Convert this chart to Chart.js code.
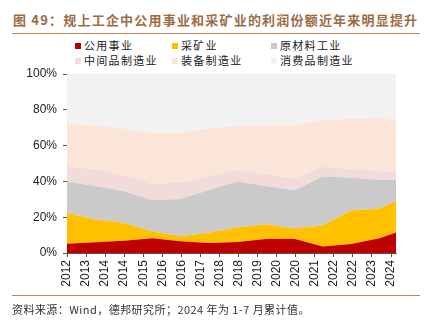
<!DOCTYPE html>
<html><head><meta charset="utf-8">
<script src="https://cdn.jsdelivr.net/npm/chart.js@4/dist/chart.umd.min.js"></script>
<style>
html,body{margin:0;padding:0;background:#fff;width:428px;height:322px;overflow:hidden;}
#wrap{position:relative;width:428px;height:322px;font-family:"Noto Sans CJK SC","Liberation Sans",sans-serif;}
#title{position:absolute;left:13px;top:10px;font-size:13px;font-weight:bold;color:#9C6C45;letter-spacing:1.2px;white-space:nowrap;line-height:20px;}
.rule{position:absolute;left:12px;width:408px;height:0;border-top:1.5px solid #B8875E;}
#legend .it{position:absolute;font-size:11px;color:#222;letter-spacing:1.3px;white-space:nowrap;line-height:14px;}
#legend .sw{position:absolute;width:6px;height:6px;}
#source{position:absolute;left:12px;top:301px;font-size:11px;color:#333;white-space:nowrap;line-height:16px;letter-spacing:0.45px;}
canvas{position:absolute;left:0;top:0;}
</style></head>
<body><div id="wrap">
<div id="title">图 49：规上工企中公用事业和采矿业的利润份额近年来明显提升</div>
<div class="rule" style="top:33px"></div>
<div id="legend"></div>
<canvas id="c" width="428" height="322"></canvas>
<div class="rule" style="top:295px"></div>
<div id="source">资料来源：Wind，德邦研究所；2024 年为 1-7 月累计值。</div>
</div>
<script>
// x positions in years since Dec 2012 (2024 point = Jul 2024, 1-7 cumulative)
const periods = [0,1,2,3,4,5,6,7,8,9,10,11,11.583];
const tickLabels = ["2012","2013","2014","2014","2015","2016","2016","2017","2018","2018","2019","2020","2020","2021","2022","2022","2023","2024"];
const seriesNames = ["公用事业","采矿业","原材料工业","中间品制造业","装备制造业","消费品制造业"];
const utilities    = [5.2,6.0,6.9,8.3,6.6,5.6,6.1,7.8,7.9,3.7,5.0,8.3,11.5];
const mining       = [17.1,12.7,9.8,3.7,2.7,5.9,8.2,8.3,5.8,11.7,18.7,16.5,17.6];
const rawMaterials = [17.5,18.8,18.0,17.5,20.9,23.7,25.6,21.4,21.3,27.3,18.4,16.0,11.7];
const intermediate = [8.4,9.3,8.9,9.1,9.2,8.1,6.5,6.5,6.6,5.5,4.8,5.0,4.6];
const equipment    = [24.2,24.3,26.0,28.6,27.8,26.4,24.5,26.9,29.6,26.4,27.9,29.7,28.8];
const consumer     = [27.6,28.9,30.4,32.8,32.8,30.3,29.1,29.1,28.8,25.4,25.2,24.5,25.8];
const colors = ["#C00000","#FFC000","#CACACA","#F2DCDB","#FBE4D8","#F2F2F2"];
const allSeries = [utilities,mining,rawMaterials,intermediate,equipment,consumer];

// HTML legend (3 columns x 2 rows)
const lg = document.getElementById('legend');
const colX = [75,172,271], rowY = [45.5,60.5];
seriesNames.forEach((n,i)=>{
  const c = i%3, r = Math.floor(i/3);
  const sw = document.createElement('div'); sw.className='sw';
  sw.style.left = colX[c]+'px'; sw.style.top = (rowY[r]-3)+'px'; sw.style.background = colors[i];
  lg.appendChild(sw);
  const t = document.createElement('div'); t.className='it'; t.textContent = n;
  t.style.left = (colX[c]+9)+'px'; t.style.top = (rowY[r]-7.5)+'px';
  lg.appendChild(t);
});

const tickStep = 11.407/17;
const datasets = allSeries.map((arr,i)=>({
  label: seriesNames[i],
  data: arr.map((v,j)=>({x:periods[j], y:v})),
  backgroundColor: colors[i],
  borderWidth: 0,
  pointRadius: 0,
  tension: 0,
  fill: i===0 ? 'origin' : '-1'
}));

new Chart(document.getElementById('c'), {
  type: 'line',
  data: { datasets },
  options: {
    responsive: false,
    animation: false,
    layout: { padding: { left: 0, top: 74, right: 32, bottom: 0 } },
    plugins: { legend: { display: false }, tooltip: { enabled: false } },
    scales: {
      x: {
        type: 'linear', min: 0, max: 11.583,
        afterBuildTicks: (s) => { s.ticks = tickLabels.map((l,k)=>({value: k*tickStep})); },
        afterFit: (s) => { s.height = 69; },
        ticks: {
          autoSkip: false, minRotation: 90, maxRotation: 90, padding: 3,
          color: '#222', font: { family: 'Liberation Sans, Arial, sans-serif', size: 12 },
          callback: (v, idx) => tickLabels[idx]
        },
        grid: { display: true, drawOnChartArea: false, drawTicks: true, tickLength: 4, color: '#555', lineWidth: 1 },
        border: { display: true, color: '#555', width: 1 }
      },
      y: {
        stacked: true, min: 0, max: 100,
        afterFit: (s) => { s.width = 67; },
        ticks: { stepSize: 20, padding: 6, color: '#222',
          font: { family: 'Liberation Sans, Arial, sans-serif', size: 12 },
          callback: (v) => v + '%' },
        grid: { display: true, drawOnChartArea: false, drawTicks: true, tickLength: 4, color: '#555', lineWidth: 1 },
        border: { display: true, color: '#555', width: 1 }
      }
    }
  }
});
</script>
</body></html>
